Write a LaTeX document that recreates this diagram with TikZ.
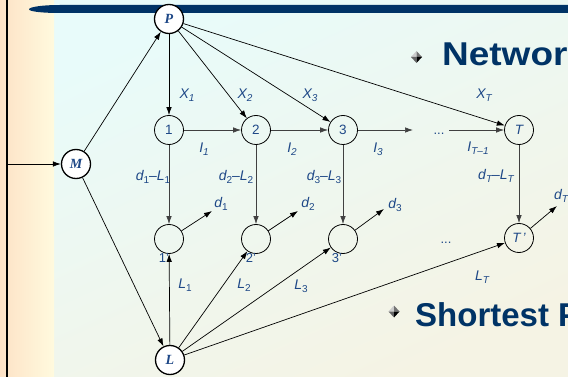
\documentclass[tikz,border=0pt]{standalone}
\usepackage{fontspec}
\setmainfont{Liberation Sans}
\newfontfamily\serifbi{Liberation Serif}
\usetikzlibrary{arrows.meta}
\definecolor{lab}{RGB}{30,72,135}
\definecolor{navy}{RGB}{0,51,102}
\definecolor{cyanbg}{RGB}{232,251,250}
\definecolor{beigebg}{RGB}{245,243,228}
\definecolor{peach}{RGB}{253,226,198}
\definecolor{cream}{RGB}{255,250,222}
\newcommand\lsb[1]{\raisebox{-0.35ex}{\fontsize{10}{10}\selectfont #1}}
\begin{document}
\begin{tikzpicture}[x=1pt,y=-1pt,
  bigc/.style={circle,draw,line width=1.3pt,fill=white,minimum size=29pt,inner sep=0pt,
    text=lab,font=\serifbi\bfseries\itshape\fontsize{14}{14}\selectfont},
  smc/.style={circle,draw,line width=0.8pt,minimum size=29pt,inner sep=0pt,
    text=lab,font=\fontsize{13.5}{13.5}\selectfont},
  lbl/.style={text=lab,inner sep=0pt,font=\itshape\fontsize{14}{14}\selectfont},
  plbl/.style={text=lab,inner sep=0pt,font=\fontsize{13}{13}\selectfont},
  arr/.style={-{Latex[length=8pt,width=5.5pt]},line width=0.7pt},
  garr/.style={arr,draw=black!75},
  head/.style={text=navy,inner sep=0pt,anchor=base west,font=\bfseries\fontsize{33}{33}\selectfont}]
\clip (0,0) rectangle (568,377);
% backgrounds
\shade[top color=cyanbg,middle color=cyanbg,bottom color=beigebg,shading angle=25] (54,0) rectangle (568,377);
\shade[left color=peach,right color=cream] (0,0) rectangle (54,377);
\fill[black] (5.5,0) rectangle (7.5,377);
% top bar
\fill[navy] (60,5) -- (568,5) -- (568,13) -- (60,13) .. controls (42,13) and (29,11.5) .. (29,9.3) .. controls (29,7) and (42,5) .. (60,5) -- cycle;
% bullets
\foreach \cx/\cy in {416.5/57, 394/311.5}{
  \fill[black!20] (\cx,\cy-6) -- (\cx-5.5,\cy) -- (\cx,\cy) -- cycle;
  \fill[black!55] (\cx,\cy-6) -- (\cx+5.5,\cy) -- (\cx,\cy) -- cycle;
  \fill[black!60] (\cx-5.5,\cy) -- (\cx,\cy+6) -- (\cx,\cy) -- cycle;
  \fill[black] (\cx+5.5,\cy) -- (\cx,\cy+6) -- (\cx,\cy) -- cycle;
}
\node[head] (h1) at (442,66) {\scalebox{1.12}[1]{Network}};
\node[head,font=\bfseries\fontsize{33}{33}\selectfont] (h2) at (415,326) {Shortest Path};
% nodes
\node[bigc] (P) at (169,19) {P};
\node[bigc] (M) at (76,164) {M};
\node[bigc] (L) at (170,360) {L};
\node[smc] (n1) at (169,130) {1};
\node[smc] (n2) at (256,130) {2};
\node[smc] (n3) at (343,130) {3};
\node[smc,font=\itshape\fontsize{13.5}{13.5}\selectfont] (nT) at (519,130) {T};
\node[smc] (m1) at (169,239) {};
\node[smc] (m2) at (256,239) {};
\node[smc] (m3) at (343,239) {};
\node[smc,font=\itshape\fontsize{13.5}{13.5}\selectfont] (mT) at (519,238) {T\,’};
% coordinates
\coordinate (in) at (7,164);
\coordinate (e1) at (413,130);
\coordinate (e2) at (449,130);
\coordinate (t1) at (212,211);
\coordinate (t2) at (298,211);
\coordinate (t3) at (384,209);
\coordinate (tT) at (557,206);
% dots
\node[plbl,anchor=base] (dots1) at (439,134.5) {...};
\node[plbl,anchor=base] (dots2) at (446,243.5) {...};
% primed labels
\node[plbl] (p1) at (164,258) {1’};
\node[plbl] (p2) at (251,258) {2’};
\node[plbl] (p3) at (337,258) {3’};
% edges
\draw[arr] (in) -- (M);
\draw[arr] (M) -- (P);
\draw[arr] (M) -- (L);
\draw[arr] (P) -- (n1);
\draw[arr] (P) -- (n2);
\draw[arr] (P) -- (n3);
\draw[arr] (P) -- (nT);
\draw[garr] (n1) -- (n2);
\draw[garr] (n2) -- (n3);
\draw[garr] (n3) -- (e1);
\draw[garr] (e2) -- (nT);
\draw[garr] (n1) -- (m1);
\draw[garr] (n2) -- (m2);
\draw[garr] (n3) -- (m3);
\draw[garr] (nT) -- (mT);
\draw[arr] (L) -- (m1);
\draw[arr] (L) -- (m2);
\draw[arr] (L) -- (m3);
\draw[arr] (L) -- (mT);
\draw[arr] (m1) -- (t1);
\draw[arr] (m2) -- (t2);
\draw[arr] (m3) -- (t3);
\draw[arr] (mT) -- (tT);
% labels
\node[lbl] (X1) at (187,95) {X\lsb{1}};
\node[lbl] (X2) at (245,95) {X\lsb{2}};
\node[lbl] (X3) at (310,95) {X\lsb{3}};
\node[lbl] (XT) at (484,95) {X\lsb{T}};
\node[lbl] (I1) at (204,149) {I\lsb{1}};
\node[lbl] (I2) at (292,149) {I\lsb{2}};
\node[lbl] (I3) at (378,149) {I\lsb{3}};
\node[lbl] (IT) at (478,148) {I\lsb{T–1}};
\node[lbl] (dl1) at (153,177) {d\lsb{\upshape 1}\upshape–\itshape L\lsb{\upshape 1}};
\node[lbl] (dl2) at (236,177) {d\lsb{\upshape 2}\upshape–\itshape L\lsb{\upshape 2}};
\node[lbl] (dl3) at (324,177) {d\lsb{\upshape 3}\upshape–\itshape L\lsb{\upshape 3}};
\node[lbl] (dlT) at (496,176) {d\lsb{T}\upshape–\itshape L\lsb{T}};
\node[lbl] (d1) at (221,204) {d\lsb{\upshape 1}};
\node[lbl] (d2) at (308,204) {d\lsb{\upshape 2}};
\node[lbl] (d3) at (395,205) {d\lsb{\upshape 3}};
\node[lbl,anchor=west] (dT) at (554,196) {d\lsb{T}};
\node[lbl] (L1) at (185,285) {L\lsb{\upshape 1}};
\node[lbl] (L2) at (244,285) {L\lsb{\upshape 2}};
\node[lbl] (L3) at (301,286) {L\lsb{\upshape 3}};
\node[lbl] (LT) at (482,277) {L\lsb{T}};
\end{tikzpicture}
\end{document}
